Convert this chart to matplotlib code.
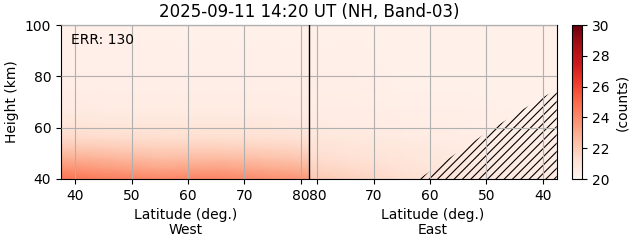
import numpy as np
import matplotlib
matplotlib.use("Agg")
import matplotlib.pyplot as plt
from matplotlib import transforms

plt.rcParams["hatch.linewidth"] = 0.8

# --- data ---
title = "2025-09-11 14:20 UT (NH, Band-03)"
err_value = 130
pole_lat = 81.5          # latitude at the centre line (both sides meet here)

lat_nodes = [37.5, 45, 55, 65, 75, 81.5]
height_nodes = [40, 44, 48, 52, 56, 60, 66, 76, 100]

# counts, rows = heights, cols = lat_nodes (west side)
west_counts = [
    [24.7, 24.4, 24.1, 24.2, 23.8, 23.6],
    [23.8, 23.5, 23.2, 23.3, 23.0, 22.8],
    [22.9, 22.7, 22.4, 22.5, 22.3, 22.1],
    [22.1, 22.0, 21.8, 21.8, 21.7, 21.6],
    [21.5, 21.4, 21.3, 21.3, 21.2, 21.1],
    [21.1, 21.0, 21.0, 21.0, 20.9, 20.8],
    [20.7, 20.6, 20.6, 20.6, 20.6, 20.5],
    [20.4, 20.4, 20.4, 20.4, 20.4, 20.4],
    [20.3, 20.3, 20.3, 20.3, 20.3, 20.3],
]
# east side, same layout
east_counts = [
    [20.6, 20.7, 20.9, 21.3, 21.8, 22.1],
    [20.5, 20.6, 20.8, 21.1, 21.5, 21.7],
    [20.5, 20.5, 20.7, 20.9, 21.2, 21.4],
    [20.4, 20.5, 20.6, 20.8, 21.0, 21.1],
    [20.4, 20.4, 20.5, 20.6, 20.8, 20.9],
    [20.3, 20.4, 20.4, 20.5, 20.6, 20.7],
    [20.3, 20.3, 20.4, 20.4, 20.5, 20.5],
    [20.3, 20.3, 20.3, 20.3, 20.4, 20.4],
    [20.3, 20.3, 20.3, 20.3, 20.3, 20.3],
]

# boundary of the hatched (invalid) region on the east side
hatch_lat = [62, 56, 50, 44, 37.5]
hatch_height = [40, 49, 58, 66.5, 75]

tick_lats = [40, 50, 60, 70, 80]


def west_x(lat):
    return np.asarray(lat, dtype=float) - pole_lat


def east_x(lat):
    return pole_lat - np.asarray(lat, dtype=float)


fig = plt.figure(figsize=(6.31, 2.43), dpi=100)
ax = fig.add_axes([61 / 631, 64 / 243, 496 / 631, 154 / 243])
cax = fig.add_axes([572 / 631, 64 / 243, 10 / 631, 154 / 243])

H = np.array(height_nodes, dtype=float)
for xfun, vals in ((west_x, west_counts), (east_x, east_counts)):
    X, Y = np.meshgrid(xfun(lat_nodes), H)
    mesh = ax.pcolormesh(X, Y, np.array(vals), cmap="Reds", vmin=20, vmax=30,
                         shading="gouraud", zorder=0)

ax.fill_between(east_x(hatch_lat), hatch_height, 40, facecolor="none",
                edgecolor="black", hatch="////", linewidth=0, zorder=1)

ax.axvline(0, color="black", lw=1.0, zorder=3)

ax.set_xlim(-44.05, 44.05)
ax.set_ylim(40, 100)
ax.set_yticks([40, 60, 80, 100])
xt = list(west_x(tick_lats)) + list(east_x(tick_lats))
ax.set_xticks(xt)
ax.set_xticklabels([str(t) for t in tick_lats] * 2)
ax.grid(True, color="#b0b0b0", lw=0.8, zorder=2)
ax.set_axisbelow(False)
ax.set_ylabel("Height (km)")
ax.set_title(title, fontsize=12)
ax.text(0.02, 0.95, f"ERR: {err_value}", transform=ax.transAxes,
        ha="left", va="top", fontsize=10)

trans = transforms.blended_transform_factory(ax.transData, ax.transAxes)
ax.text(-22, -0.19, "Latitude (deg.)\nWest", transform=trans,
        ha="center", va="top", fontsize=10, linespacing=1.1)
ax.text(22, -0.19, "Latitude (deg.)\nEast", transform=trans,
        ha="center", va="top", fontsize=10, linespacing=1.1)

cb = fig.colorbar(mesh, cax=cax, ticks=[20, 22, 24, 26, 28, 30])
cb.set_label("(counts)")

fig.savefig("out.png", dpi=100)
